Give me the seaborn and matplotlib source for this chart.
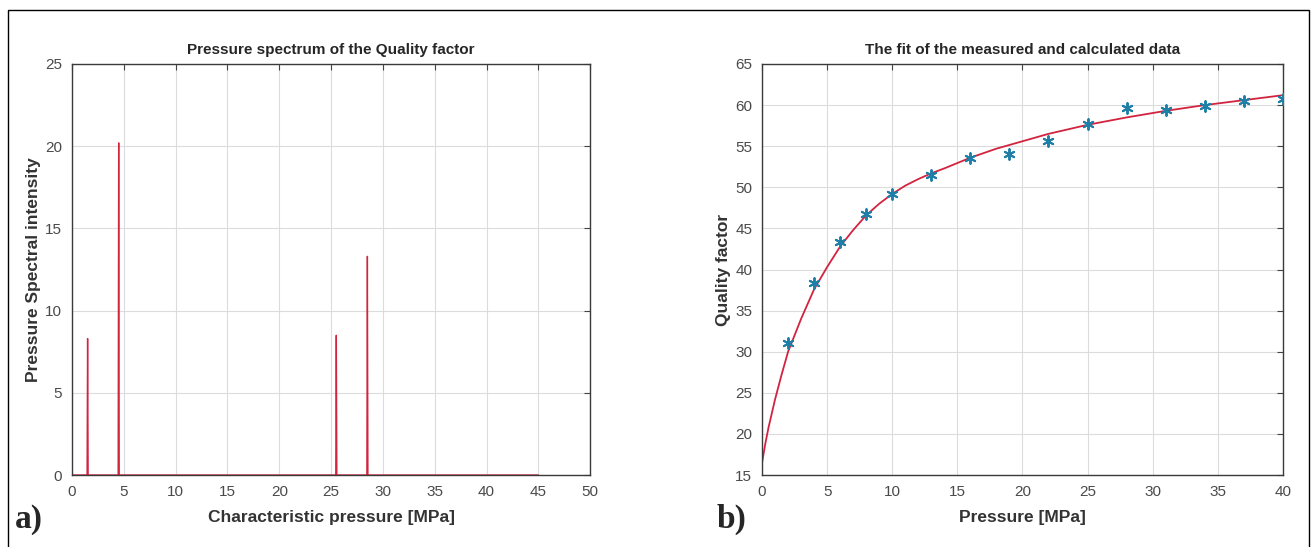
import matplotlib
matplotlib.use("Agg")
import matplotlib.pyplot as plt
import seaborn as sns
import pandas as pd
from matplotlib.patches import Rectangle

# panel a) pressure spectrum (spikes on a zero baseline)
spec_p = [0, 1.45, 1.5, 1.55, 4.45, 4.5, 4.55, 25.45, 25.5, 25.55, 28.45, 28.5, 28.55, 45]
spec_i = [0, 0, 8.3, 0, 0, 20.2, 0, 0, 8.5, 0, 0, 13.3, 0, 0]

# panel b) measured quality factor
meas_p = [2, 4, 6, 8, 10, 13, 16, 19, 22, 25, 28, 31, 34, 37, 40]
meas_q = [31.0, 38.3, 43.3, 46.8, 49.2, 51.5, 53.6, 54.0, 55.6, 57.7, 59.6, 59.4, 59.9, 60.5, 60.7]

# panel b) fitted curve
fit_p = [0, 0.25, 0.5, 1, 1.5, 2, 3, 4, 5, 6, 7, 8, 9, 10, 11, 12, 13, 14, 16, 18, 20, 22, 25,
         28, 31, 34, 37, 40]
fit_q = [16.5, 18.8, 20.8, 24.2, 27.2, 30.0, 34.0, 37.6, 40.3, 42.8, 44.8, 46.6, 48.0, 49.2,
         50.2, 51.0, 51.7, 52.3, 53.6, 54.7, 55.6, 56.5, 57.6, 58.5, 59.3, 60.0, 60.6, 61.2]

sns.set_style("white")
plt.rcParams["font.family"] = ["Liberation Sans", "DejaVu Sans"]

fig = plt.figure(figsize=(13.15, 5.47), dpi=100)
ax1 = fig.add_axes([0.0548, 0.1316, 0.394, 0.7514])
ax2 = fig.add_axes([0.5795, 0.1316, 0.396, 0.7514])

red = "#d2233f"
blue = "#1f7fa6"

spec = pd.DataFrame({"p": spec_p, "i": spec_i})
sns.lineplot(data=spec, x="p", y="i", color=red, lw=1.0, estimator=None, sort=False, ax=ax1)

fit = pd.DataFrame({"p": fit_p, "q": fit_q})
sns.lineplot(data=fit, x="p", y="q", color=red, lw=1.3, estimator=None, ax=ax2)
meas = pd.DataFrame({"p": meas_p, "q": meas_q})
sns.scatterplot(data=meas, x="p", y="q", marker=(6, 2, 0), s=60, color=blue,
                edgecolor=blue, linewidth=1.4, ax=ax2, zorder=3)

def style(ax, xlim, ylim, xt, yt, title, xl, yl):
    ax.set_xlim(*xlim)
    ax.set_ylim(*ylim)
    ax.set_xticks(xt)
    ax.set_yticks(yt)
    ax.grid(True, color="#dcdcdc", lw=0.8)
    ax.set_axisbelow(True)
    ax.tick_params(direction="in", top=True, right=True, length=4, color="#444444",
                   labelsize=11, labelcolor="#4a4a4a", pad=7)
    for s in ax.spines.values():
        s.set_color("#3a3a3a")
        s.set_linewidth(1.0)
    ax.set_title(title, fontsize=11, fontweight="bold", pad=7)
    ax.set_xlabel(xl, fontsize=12.5, fontweight="bold", color="#333333", labelpad=8)
    ax.set_ylabel(yl, fontsize=12.5, fontweight="bold", color="#333333", labelpad=3)

style(ax1, (0, 50), (0, 25), range(0, 51, 5), range(0, 26, 5),
      "Pressure spectrum of the Quality factor", "Characteristic pressure [MPa]",
      "Pressure Spectral intensity")
style(ax2, (0, 40), (15, 65), range(0, 41, 5), range(15, 66, 5),
      "The fit of the measured and calculated data", "Pressure [MPa]", "Quality factor")

fig.text(0.011, 0.035, "a)", fontsize=24, fontweight="bold", family="Liberation Serif")
fig.text(0.545, 0.035, "b)", fontsize=24, fontweight="bold", family="Liberation Serif")

fig.patches.append(Rectangle((8 / 1315, -0.1), 1301 / 1315, 1.1 - 10 / 547,
                             transform=fig.transFigure, fill=False, ec="black", lw=1.0))

fig.savefig("out.png", dpi=100)
